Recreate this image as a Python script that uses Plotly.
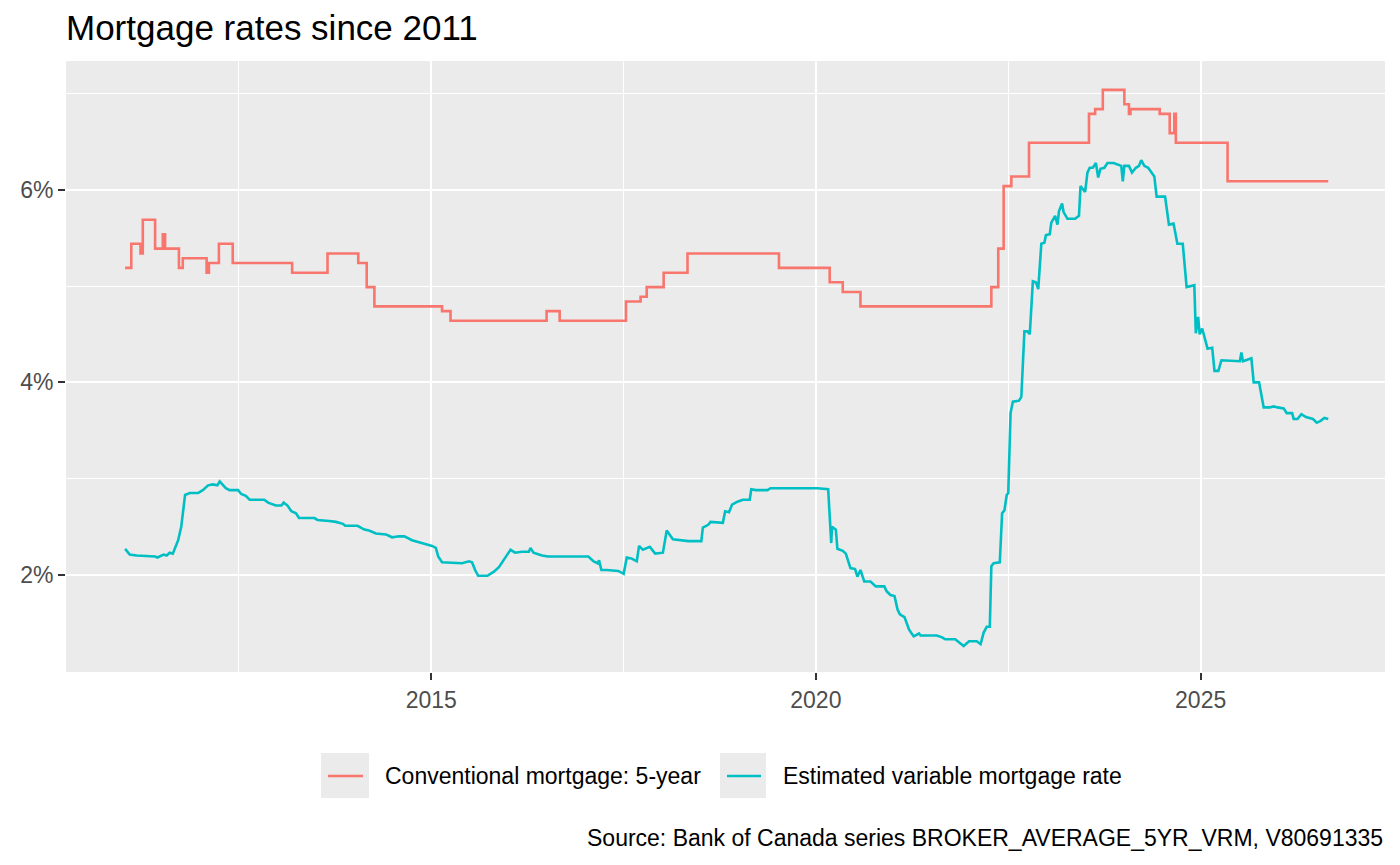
#!/usr/bin/env python3
import pandas as pd
import plotly.graph_objects as go

# Conventional 5-year posted rate: change points (decimal year, %), drawn as steps
conv_year = [2011.02, 2011.10, 2011.22, 2011.25, 2011.41, 2011.51, 2011.54, 2011.72,
             2011.77, 2012.08, 2012.11, 2012.24, 2012.42, 2013.19, 2013.65, 2014.05,
             2014.16, 2014.26, 2015.14, 2015.25, 2016.50, 2016.67, 2017.53, 2017.72,
             2017.80, 2018.02, 2018.33, 2019.52, 2020.18, 2020.35, 2020.58, 2022.28,
             2022.37, 2022.44, 2022.54, 2022.77, 2023.55, 2023.63, 2023.73, 2024.01,
             2024.07, 2024.09, 2024.47, 2024.60, 2024.66, 2024.68, 2025.35, 2026.66]
conv_rate = [5.19, 5.44, 5.34, 5.69, 5.39, 5.54, 5.39, 5.19,
             5.29, 5.14, 5.24, 5.44, 5.24, 5.14, 5.34, 5.24,
             4.99, 4.79, 4.74, 4.64, 4.74, 4.64, 4.84, 4.89,
             4.99, 5.14, 5.34, 5.19, 5.04, 4.94, 4.79, 4.99,
             5.39, 6.04, 6.14, 6.49, 6.79, 6.84, 7.04, 6.89,
             6.79, 6.84, 6.79, 6.59, 6.79, 6.49, 6.09, 6.09]

# Estimated variable mortgage rate (decimal year, %)
var_year = [2011.02, 2011.04, 2011.08, 2011.17, 2011.41, 2011.44, 2011.52, 2011.56,
            2011.60, 2011.64, 2011.68, 2011.71, 2011.75, 2011.80, 2011.86, 2011.97,
            2012.03, 2012.10, 2012.16, 2012.22, 2012.25, 2012.28, 2012.33, 2012.38,
            2012.49, 2012.53, 2012.59, 2012.64, 2012.83, 2012.88, 2012.98, 2013.05,
            2013.08, 2013.13, 2013.18, 2013.24, 2013.28, 2013.48, 2013.52, 2013.67,
            2013.76, 2013.85, 2013.88, 2014.04, 2014.13, 2014.19, 2014.28, 2014.41,
            2014.49, 2014.58, 2014.65, 2014.75, 2014.88, 2015.01, 2015.06, 2015.09,
            2015.14, 2015.40, 2015.49, 2015.53, 2015.57, 2015.61, 2015.73, 2015.81,
            2015.88, 2015.96, 2016.03, 2016.09, 2016.18, 2016.27, 2016.29, 2016.33,
            2016.44, 2016.52, 2017.04, 2017.11, 2017.16, 2017.18, 2017.21, 2017.28,
            2017.43, 2017.50, 2017.54, 2017.60, 2017.67, 2017.70, 2017.75, 2017.84,
            2017.91, 2018.01, 2018.06, 2018.14, 2018.29, 2018.34, 2018.51, 2018.53,
            2018.60, 2018.63, 2018.79, 2018.82, 2018.87, 2018.91, 2018.98, 2019.05,
            2019.14, 2019.16, 2019.22, 2019.37, 2019.41, 2020.02, 2020.16, 2020.20,
            2020.21, 2020.26, 2020.28, 2020.35, 2020.39, 2020.45, 2020.51, 2020.54,
            2020.58, 2020.63, 2020.71, 2020.78, 2020.89, 2020.92, 2020.97, 2021.02,
            2021.06, 2021.09, 2021.15, 2021.21, 2021.27, 2021.34, 2021.36, 2021.57,
            2021.64, 2021.68, 2021.81, 2021.92, 2021.99, 2022.09, 2022.14, 2022.18,
            2022.22, 2022.26, 2022.28, 2022.31, 2022.39, 2022.42, 2022.45, 2022.48,
            2022.50, 2022.53, 2022.56, 2022.64, 2022.67, 2022.71, 2022.75, 2022.78,
            2022.82, 2022.86, 2022.89, 2022.93, 2022.97, 2022.99, 2023.04, 2023.06,
            2023.11, 2023.14, 2023.16, 2023.20, 2023.22, 2023.27, 2023.37, 2023.42,
            2023.44, 2023.50, 2023.53, 2023.56, 2023.60, 2023.64, 2023.67, 2023.70,
            2023.75, 2023.79, 2023.87, 2023.93, 2023.97, 2023.99, 2024.01, 2024.07,
            2024.11, 2024.16, 2024.20, 2024.23, 2024.27, 2024.32, 2024.36, 2024.40,
            2024.43, 2024.54, 2024.59, 2024.65, 2024.70, 2024.77, 2024.82, 2024.92,
            2024.94, 2024.97, 2024.99, 2025.02, 2025.09, 2025.15, 2025.18, 2025.23,
            2025.27, 2025.51, 2025.53, 2025.55, 2025.66, 2025.69, 2025.76, 2025.82,
            2025.90, 2025.95, 2026.00, 2026.08, 2026.12, 2026.19, 2026.21, 2026.26,
            2026.31, 2026.37, 2026.46, 2026.51, 2026.56, 2026.61, 2026.66]
var_rate = [2.27, 2.25, 2.21, 2.20, 2.19, 2.18, 2.21, 2.20,
            2.23, 2.22, 2.29, 2.36, 2.50, 2.83, 2.85, 2.85,
            2.88, 2.93, 2.94, 2.93, 2.97, 2.94, 2.90, 2.88,
            2.88, 2.84, 2.82, 2.78, 2.78, 2.75, 2.72, 2.72,
            2.75, 2.72, 2.66, 2.64, 2.59, 2.59, 2.57, 2.56,
            2.55, 2.53, 2.51, 2.51, 2.47, 2.46, 2.43, 2.42,
            2.39, 2.40, 2.40, 2.36, 2.33, 2.30, 2.28, 2.19,
            2.13, 2.12, 2.14, 2.13, 2.05, 1.99, 1.99, 2.03,
            2.08, 2.17, 2.26, 2.23, 2.24, 2.24, 2.28, 2.23,
            2.20, 2.19, 2.19, 2.14, 2.12, 2.15, 2.05, 2.05,
            2.04, 2.01, 2.18, 2.17, 2.14, 2.30, 2.26, 2.29,
            2.22, 2.23, 2.46, 2.37, 2.36, 2.35, 2.35, 2.49,
            2.52, 2.55, 2.54, 2.66, 2.65, 2.73, 2.76, 2.78,
            2.78, 2.89, 2.88, 2.88, 2.90, 2.90, 2.89, 2.33,
            2.50, 2.47, 2.27, 2.25, 2.22, 2.07, 2.06, 1.98,
            2.05, 1.93, 1.93, 1.88, 1.88, 1.83, 1.79, 1.78,
            1.64, 1.59, 1.56, 1.43, 1.36, 1.39, 1.37, 1.37,
            1.35, 1.33, 1.33, 1.26, 1.31, 1.31, 1.28, 1.40,
            1.46, 1.46, 2.09, 2.12, 2.13, 2.64, 2.67, 2.83,
            2.85, 3.68, 3.80, 3.81, 3.85, 4.53, 4.53, 4.50,
            5.05, 5.04, 4.97, 5.44, 5.45, 5.53, 5.54, 5.66,
            5.73, 5.64, 5.78, 5.86, 5.77, 5.70, 5.70, 5.73,
            6.04, 5.98, 6.18, 6.23, 6.23, 6.28, 6.13, 6.22,
            6.23, 6.28, 6.28, 6.26, 6.25, 6.09, 6.25, 6.25,
            6.18, 6.23, 6.25, 6.31, 6.25, 6.23, 6.19, 6.14,
            5.93, 5.93, 5.64, 5.65, 5.44, 5.44, 4.99, 5.01,
            4.51, 4.68, 4.50, 4.56, 4.35, 4.36, 4.12, 4.12,
            4.23, 4.22, 4.31, 4.22, 4.25, 4.00, 4.00, 3.74,
            3.74, 3.75, 3.74, 3.73, 3.68, 3.68, 3.62, 3.62,
            3.67, 3.64, 3.62, 3.58, 3.60, 3.63, 3.62]

y_ticks = [2, 4, 6]
y_minor = [1, 3, 5, 7]
x_ticks = ["2015-01-01", "2020-01-01", "2025-01-01"]
x_minor = ["2012-07-02", "2017-07-02", "2022-07-02"]

series_names = ["Conventional mortgage: 5-year", "Estimated variable mortgage rate"]
series_colors = ["#F8766D", "#00BFC4"]


def to_date(y):
    yr = int(y)
    return pd.Timestamp(yr, 1, 1) + pd.Timedelta(days=(y - yr) * 365)


FONT = "Liberation Sans, Arial, sans-serif"
# the page body adds an 8px margin, so the figure is drawn 8px smaller
W, H = 1392, 857

fig = go.Figure()
fig.add_trace(go.Scatter(
    x=[to_date(v) for v in conv_year], y=conv_rate, mode="lines",
    name=series_names[0], line=dict(color=series_colors[0], width=2.6, shape="hv"),
))
fig.add_trace(go.Scatter(
    x=[to_date(v) for v in var_year], y=var_rate, mode="lines",
    name=series_names[1], line=dict(color=series_colors[1], width=2.6),
))

tick_font = dict(family=FONT, size=23, color="#4D4D4D")

fig.update_layout(
    width=W, height=H, autosize=False,
    margin=dict(l=54, r=15, t=53, b=193),
    paper_bgcolor="white", plot_bgcolor="#EBEBEB",
    showlegend=False,
    title=dict(text="Mortgage rates since 2011", xref="paper", x=0, xanchor="left",
               yref="container", y=1 - 20 / H, yanchor="middle",
               font=dict(family=FONT, size=35, color="black")),
    xaxis=dict(
        type="date",
        range=[to_date(2010.251), to_date(2027.398)],
        tickmode="array", tickvals=x_ticks, ticktext=["2015", "2020", "2025"],
        ticks="outside", ticklen=7, tickwidth=2, tickcolor="#333333",
        tickfont=tick_font, showgrid=True, gridcolor="white", gridwidth=2.4,
        zeroline=False, showline=False,
        minor=dict(tickmode="array", tickvals=x_minor, showgrid=True,
                   gridcolor="white", gridwidth=1.2, ticks=""),
    ),
    yaxis=dict(
        range=[0.99, 7.34],
        tickmode="array", tickvals=y_ticks, ticktext=[f"{v}%" for v in y_ticks],
        ticks="outside", ticklen=7, tickwidth=2, tickcolor="#333333",
        tickfont=tick_font, showgrid=True, gridcolor="white", gridwidth=2.4,
        zeroline=False, showline=False,
        minor=dict(tickmode="array", tickvals=y_minor, showgrid=True,
                   gridcolor="white", gridwidth=1.2, ticks=""),
    ),
)

# legend drawn by hand so the keys get ggplot's grey boxes
key_boxes = [(255, 303), (654, 700)]
key_lines = [(262, 297), (661, 695)]
label_shift = [317, 715]
for i in range(2):
    fig.add_shape(type="rect", xref="paper", yref="paper", xsizemode="pixel", ysizemode="pixel",
                  xanchor=0, yanchor=0, x0=key_boxes[i][0], x1=key_boxes[i][1], y0=-126, y1=-81,
                  fillcolor="#EBEBEB", line=dict(width=0), layer="below")
    fig.add_shape(type="line", xref="paper", yref="paper", xsizemode="pixel", ysizemode="pixel",
                  xanchor=0, yanchor=0, x0=key_lines[i][0], x1=key_lines[i][1], y0=-104, y1=-104,
                  line=dict(color=series_colors[i], width=2.6))
    fig.add_annotation(text=series_names[i], xref="paper", yref="paper", x=0, y=0,
                       xanchor="left", yanchor="middle", xshift=label_shift[i], yshift=-104,
                       showarrow=False, font=dict(family=FONT, size=23, color="black"))

fig.add_annotation(text="Source: Bank of Canada series BROKER_AVERAGE_5YR_VRM, V80691335",
                   xref="paper", yref="paper", x=1, y=0, xanchor="right", yanchor="middle",
                   yshift=-166, showarrow=False, font=dict(family=FONT, size=23, color="black"))

fig.write_html("out.html")
